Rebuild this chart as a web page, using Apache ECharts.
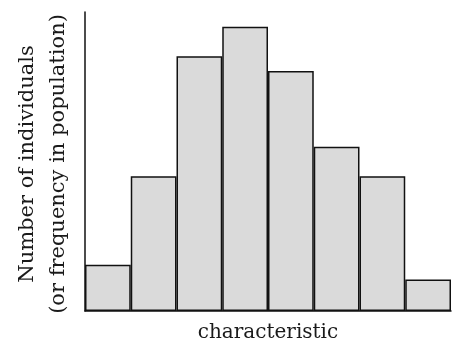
<!DOCTYPE html>
<html>
<head>
<meta charset="utf-8">
<script src="https://cdn.jsdelivr.net/npm/echarts@6/dist/echarts.min.js"></script>
<style>
  html, body { margin: 0; padding: 0; background: #fff; }
  #plot { width: 476px; height: 348px; }
</style>
</head>
<body>
<div id="plot"></div>
<script>
// 柱子类别与高度（从图上估读，单位任意）
var classes = ['1', '2', '3', '4', '5', '6', '7', '8'];
var counts = [47, 137, 259, 289, 244, 167, 137, 32];
var xTitle = 'characteristic';
var yTitleLines = ['Number of individuals', '(or frequency in population)'];

var myChart = echarts.init(document.getElementById('plot'));

var serif = 'DejaVu Serif';

var option = {
  animation: false,
  backgroundColor: '#fff',
  grid: { left: 85, right: 25, top: 12, bottom: 32 },
  xAxis: {
    type: 'category',
    data: classes,
    name: xTitle,
    nameLocation: 'middle',
    nameGap: 12,
    nameTextStyle: { fontFamily: serif, fontSize: 20, color: '#1a1a1a' },
    axisLine: { lineStyle: { color: '#111', width: 1.5 } },
    axisTick: { show: false },
    axisLabel: { show: false }
  },
  yAxis: {
    type: 'value',
    min: 0,
    max: 304,
    axisLine: { show: true, lineStyle: { color: '#111', width: 1.5 } },
    axisTick: { show: false },
    axisLabel: { show: false },
    splitLine: { show: false }
  },
  // y 轴标题两行，竖排
  graphic: [
    {
      type: 'text',
      x: 28, y: 164,
      rotation: Math.PI / 2,
      style: {
        text: yTitleLines[0],
        fontFamily: serif, fontSize: 21, fill: '#1a1a1a',
        textAlign: 'center', textVerticalAlign: 'middle'
      }
    },
    {
      type: 'text',
      x: 59, y: 164,
      rotation: Math.PI / 2,
      style: {
        text: yTitleLines[1],
        fontFamily: serif, fontSize: 21, fill: '#1a1a1a',
        textAlign: 'center', textVerticalAlign: 'middle'
      }
    }
  ],
  series: [{
    type: 'bar',
    data: counts,
    barCategoryGap: 0,
    itemStyle: { color: '#dadada', borderColor: '#111', borderWidth: 1.5 }
  }]
};

myChart.setOption(option);
</script>
</body>
</html>
